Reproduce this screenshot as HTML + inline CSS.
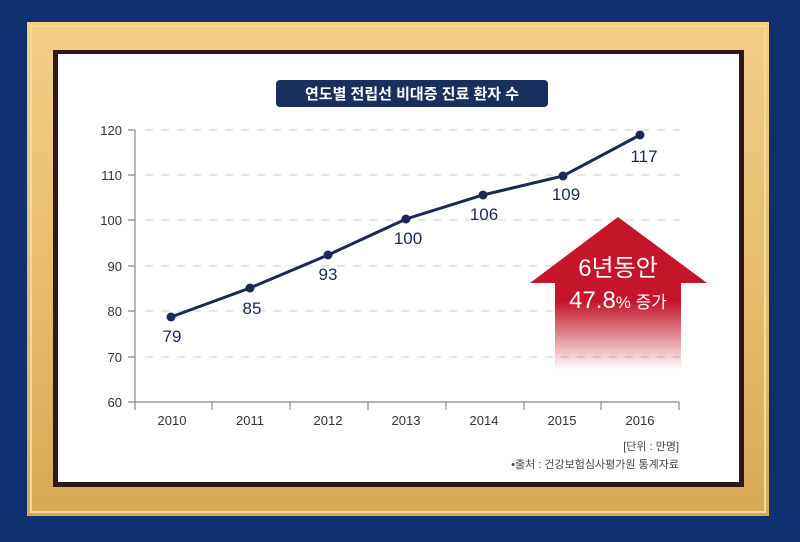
<!DOCTYPE html>
<html><head><meta charset="utf-8"><style>
body{margin:0;width:800px;height:542px;overflow:hidden;background:#10306f;font-family:"Liberation Sans","Noto Sans CJK KR",sans-serif}
</style></head><body>
<svg width="800" height="542" xmlns="http://www.w3.org/2000/svg" style="position:absolute;left:0;top:0">
<defs>
<linearGradient id="gh" x1="0" y1="0" x2="0" y2="1"><stop offset="0" stop-color="#f3cf86"/><stop offset="0.5" stop-color="#e7bd6d"/><stop offset="1" stop-color="#d6a955"/></linearGradient>
<linearGradient id="ar" x1="0" y1="0" x2="0" y2="1"><stop offset="0" stop-color="#c4152a"/><stop offset="0.55" stop-color="#c4152a"/><stop offset="1" stop-color="#c4152a" stop-opacity="0"/></linearGradient>
</defs>
<rect x="0" y="0" width="800" height="542" fill="#10306f"/>
<rect x="27" y="22" width="742" height="494" fill="url(#gh)"/>
<rect x="31" y="26" width="734" height="486" fill="none" stroke="#f6da9c" stroke-width="2"/>
<rect x="53" y="50" width="691" height="437" fill="#2d1a1a"/>
<rect x="58" y="54" width="681" height="428" fill="#fff"/>
<g stroke="#ccc" stroke-dasharray="8 8" stroke-width="1">
<line x1="145" y1="130" x2="680" y2="130"/><line x1="145" y1="175" x2="680" y2="175"/><line x1="145" y1="220" x2="680" y2="220"/><line x1="145" y1="266" x2="680" y2="266"/><line x1="145" y1="311" x2="680" y2="311"/><line x1="145" y1="357" x2="680" y2="357"/>
</g>
<path d="M618 217 L707 283 L681 283 L681 370 L555 370 L555 283 L530 283 Z" fill="url(#ar)"/>
<g stroke="#888" stroke-width="1.2" fill="none">
<line x1="135" y1="130" x2="135" y2="402"/>
<line x1="135" y1="402" x2="679" y2="402"/>
<path d="M128 130H135M128 175H135M128 220H135M128 266H135M128 311H135M128 357H135M128 402H135"/>
<path d="M135 402V410M212 402V410M290 402V410M368 402V410M446 402V410M524 402V410M601 402V410M679 402V410"/>
</g>
<g font-size="13" fill="#333" text-anchor="end">
<text x="122" y="135">120</text><text x="122" y="180">110</text><text x="122" y="225">100</text><text x="122" y="271">90</text><text x="122" y="316">80</text><text x="122" y="362">70</text><text x="122" y="407">60</text>
</g>
<g font-size="13" fill="#333" text-anchor="middle">
<text x="172" y="425">2010</text><text x="250" y="425">2011</text><text x="328" y="425">2012</text><text x="406" y="425">2013</text><text x="484" y="425">2014</text><text x="562" y="425">2015</text><text x="640" y="425">2016</text>
</g>
<polyline points="171,317 250,288 328,255 406,219 483,195 563,176 640,135" fill="none" stroke="#1b2a55" stroke-width="3"/>
<g fill="#1b2a55">
<circle cx="171" cy="317" r="4.5"/><circle cx="250" cy="288" r="4.5"/><circle cx="328" cy="255" r="4.5"/><circle cx="406" cy="219" r="4.5"/><circle cx="483" cy="195" r="4.5"/><circle cx="563" cy="176" r="4.5"/><circle cx="640" cy="135" r="4.5"/>
</g>
<g font-size="17" fill="#1b2a55" text-anchor="middle">
<text x="172" y="342">79</text><text x="252" y="314">85</text><text x="328" y="280">93</text><text x="408" y="244">100</text><text x="484" y="220">106</text><text x="566" y="200">109</text><text x="644" y="162">117</text>
</g>
<rect x="276" y="80" width="272" height="27" rx="4" fill="#1b2f5e"/>
<text x="412" y="99" font-size="15" font-weight="bold" fill="#fff" text-anchor="middle">연도별 전립선 비대증 진료 환자 수</text>
<text x="618" y="276" font-size="24" fill="#fff" text-anchor="middle">6년동안</text>
<text x="618" y="308" fill="#fff" text-anchor="middle"><tspan font-size="24">47.8</tspan><tspan font-size="17">% 증가</tspan></text>
<text x="679" y="450" font-size="11" fill="#444" text-anchor="end">[단위 : 만명]</text>
<text x="679" y="468" font-size="11" fill="#444" text-anchor="end">•출처 : 건강보험심사평가원 통계자료</text>
</svg>
</body></html>
